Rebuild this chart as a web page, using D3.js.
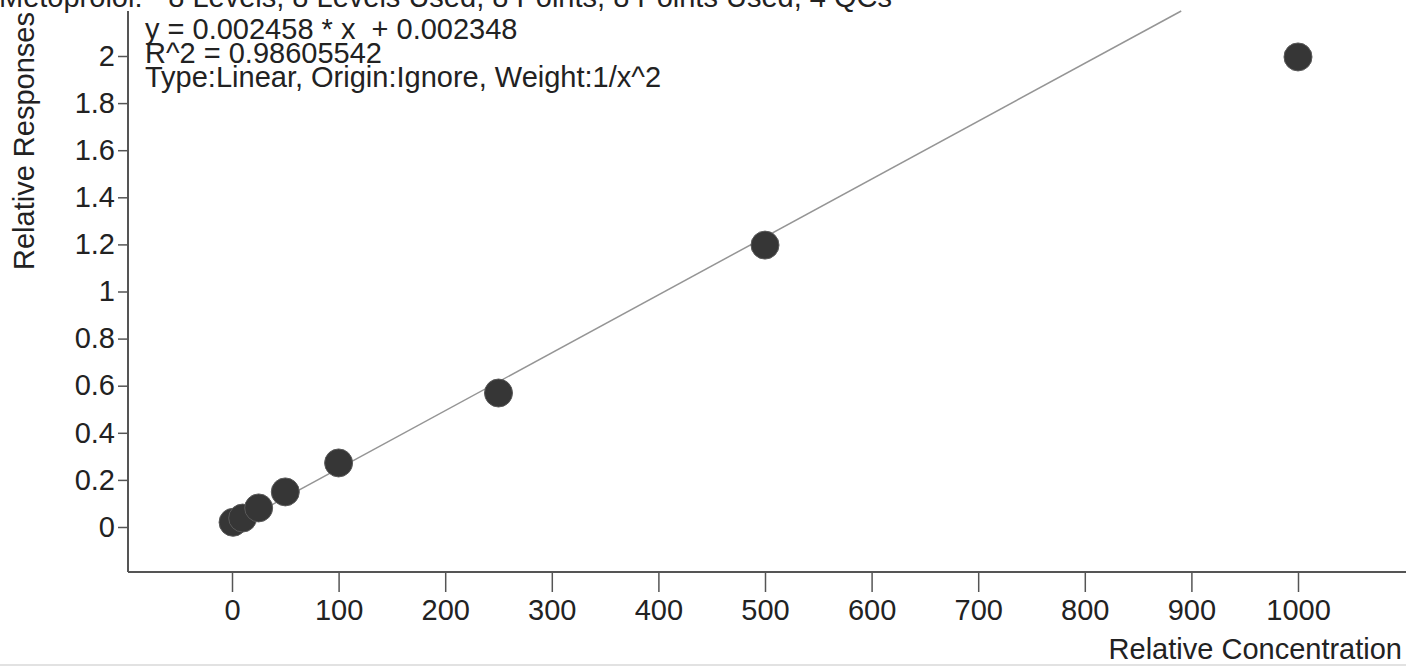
<!DOCTYPE html>
<html>
<head>
<meta charset="utf-8">
<script src="https://cdn.jsdelivr.net/npm/d3@7/dist/d3.min.js"></script>
<style>
  html, body { margin: 0; padding: 0; background: #fff; overflow: hidden; }
  svg { display: block; }
  text { font-family: "Liberation Sans", Arial, sans-serif; fill: #222; white-space: pre; }
</style>
</head>
<body>
<svg id="chart" width="1406" height="666"></svg>
<script>
// ---- data ----
const concentrations = [1, 10, 25, 50, 100, 250, 500, 1000];
const responses      = [0.02, 0.038, 0.081, 0.149, 0.272, 0.569, 1.197, 1.996];
const xTicks = [0, 100, 200, 300, 400, 500, 600, 700, 800, 900, 1000];
const yTicks = [0, 0.2, 0.4, 0.6, 0.8, 1, 1.2, 1.4, 1.6, 1.8, 2];
const fitSlope = 0.002458;
const fitIntercept = 0.002348;
const titleText = "Metoprolol: - 8 Levels, 8 Levels Used, 8 Points, 8 Points Used, 4 QCs";
const fitLines = [
  "y = 0.002458 * x  + 0.002348",
  "R^2 = 0.98605542",
  "Type:Linear, Origin:Ignore, Weight:1/x^2"
];
const xLabel = "Relative Concentration";
const yLabel = "Relative Responses";

// ---- layout ----
const svg = d3.select("#chart");
const plot = { left: 128, right: 1406, top: 11, bottom: 572 };
const x = d3.scaleLinear().domain([0, 1000]).range([232, 1298]);
const y = d3.scaleLinear().domain([0, 2]).range([527, 56]);
const FS = 29;
const FONT = "'Liberation Sans', Arial, sans-serif";

// title (clipped at top, as in the reference)
svg.append("text").attr("x", -1).attr("y", 7)
  .style("font-size", FS + "px").text(titleText);

// axes lines
svg.append("line").attr("x1", plot.left).attr("x2", plot.left)
  .attr("y1", plot.top).attr("y2", plot.bottom)
  .attr("stroke", "#555").attr("stroke-width", 2);
svg.append("line").attr("x1", plot.left).attr("x2", plot.right)
  .attr("y1", plot.bottom).attr("y2", plot.bottom)
  .attr("stroke", "#555").attr("stroke-width", 2);

// x axis ticks
const xAxis = d3.axisBottom(x).tickValues(xTicks).tickSize(20).tickPadding(7)
  .tickFormat(d3.format("d"));
const gx = svg.append("g").attr("transform", `translate(0,${plot.bottom})`).call(xAxis);
gx.select(".domain").remove();
gx.selectAll(".tick line").attr("stroke", "#555").attr("stroke-width", 1.5);
gx.selectAll(".tick text").style("font-size", FS + "px")
  .style("font-family", FONT).attr("fill", "#222");

// y axis ticks
const yAxis = d3.axisLeft(y).tickValues(yTicks).tickSize(10).tickPadding(3)
  .tickFormat(d => d3.format("")(+d.toFixed(1)));
const gy = svg.append("g").attr("transform", `translate(${plot.left},0)`).call(yAxis);
gy.select(".domain").remove();
gy.selectAll(".tick line").attr("stroke", "#555").attr("stroke-width", 1.5);
gy.selectAll(".tick text").style("font-size", FS + "px")
  .style("font-family", FONT).attr("fill", "#222");

// axis titles
svg.append("text").attr("x", 1402).attr("y", 659).attr("text-anchor", "end")
  .style("font-size", FS + "px").text(xLabel);
svg.append("text").attr("transform", `translate(34,141) rotate(-90)`)
  .attr("text-anchor", "middle").style("font-size", FS + "px").text(yLabel);

// fit info
fitLines.forEach((t, i) => {
  svg.append("text").attr("x", 145).attr("y", 39 + i * 24)
    .style("font-size", FS + "px").text(t);
});

// fitted line (clipped at plot top)
const yTopVal = y.invert(plot.top);
const xEnd = (yTopVal - fitIntercept) / fitSlope;
svg.append("line")
  .attr("x1", x(0)).attr("y1", y(fitIntercept))
  .attr("x2", x(xEnd)).attr("y2", y(fitSlope * xEnd + fitIntercept))
  .attr("stroke", "#959595").attr("stroke-width", 1.5);

// points
svg.append("g").selectAll("circle")
  .data(concentrations.map((c, i) => ({ c, r: responses[i] })))
  .join("circle")
  .attr("cx", d => x(d.c)).attr("cy", d => y(d.r)).attr("r", 14)
  .attr("fill", "#363636").attr("stroke", "#5a5a5a").attr("stroke-width", 1);

// faint bottom border
svg.append("line").attr("x1", 0).attr("x2", 1406).attr("y1", 665).attr("y2", 665)
  .attr("stroke", "#e2e2e2").attr("stroke-width", 2);
</script>
</body>
</html>
